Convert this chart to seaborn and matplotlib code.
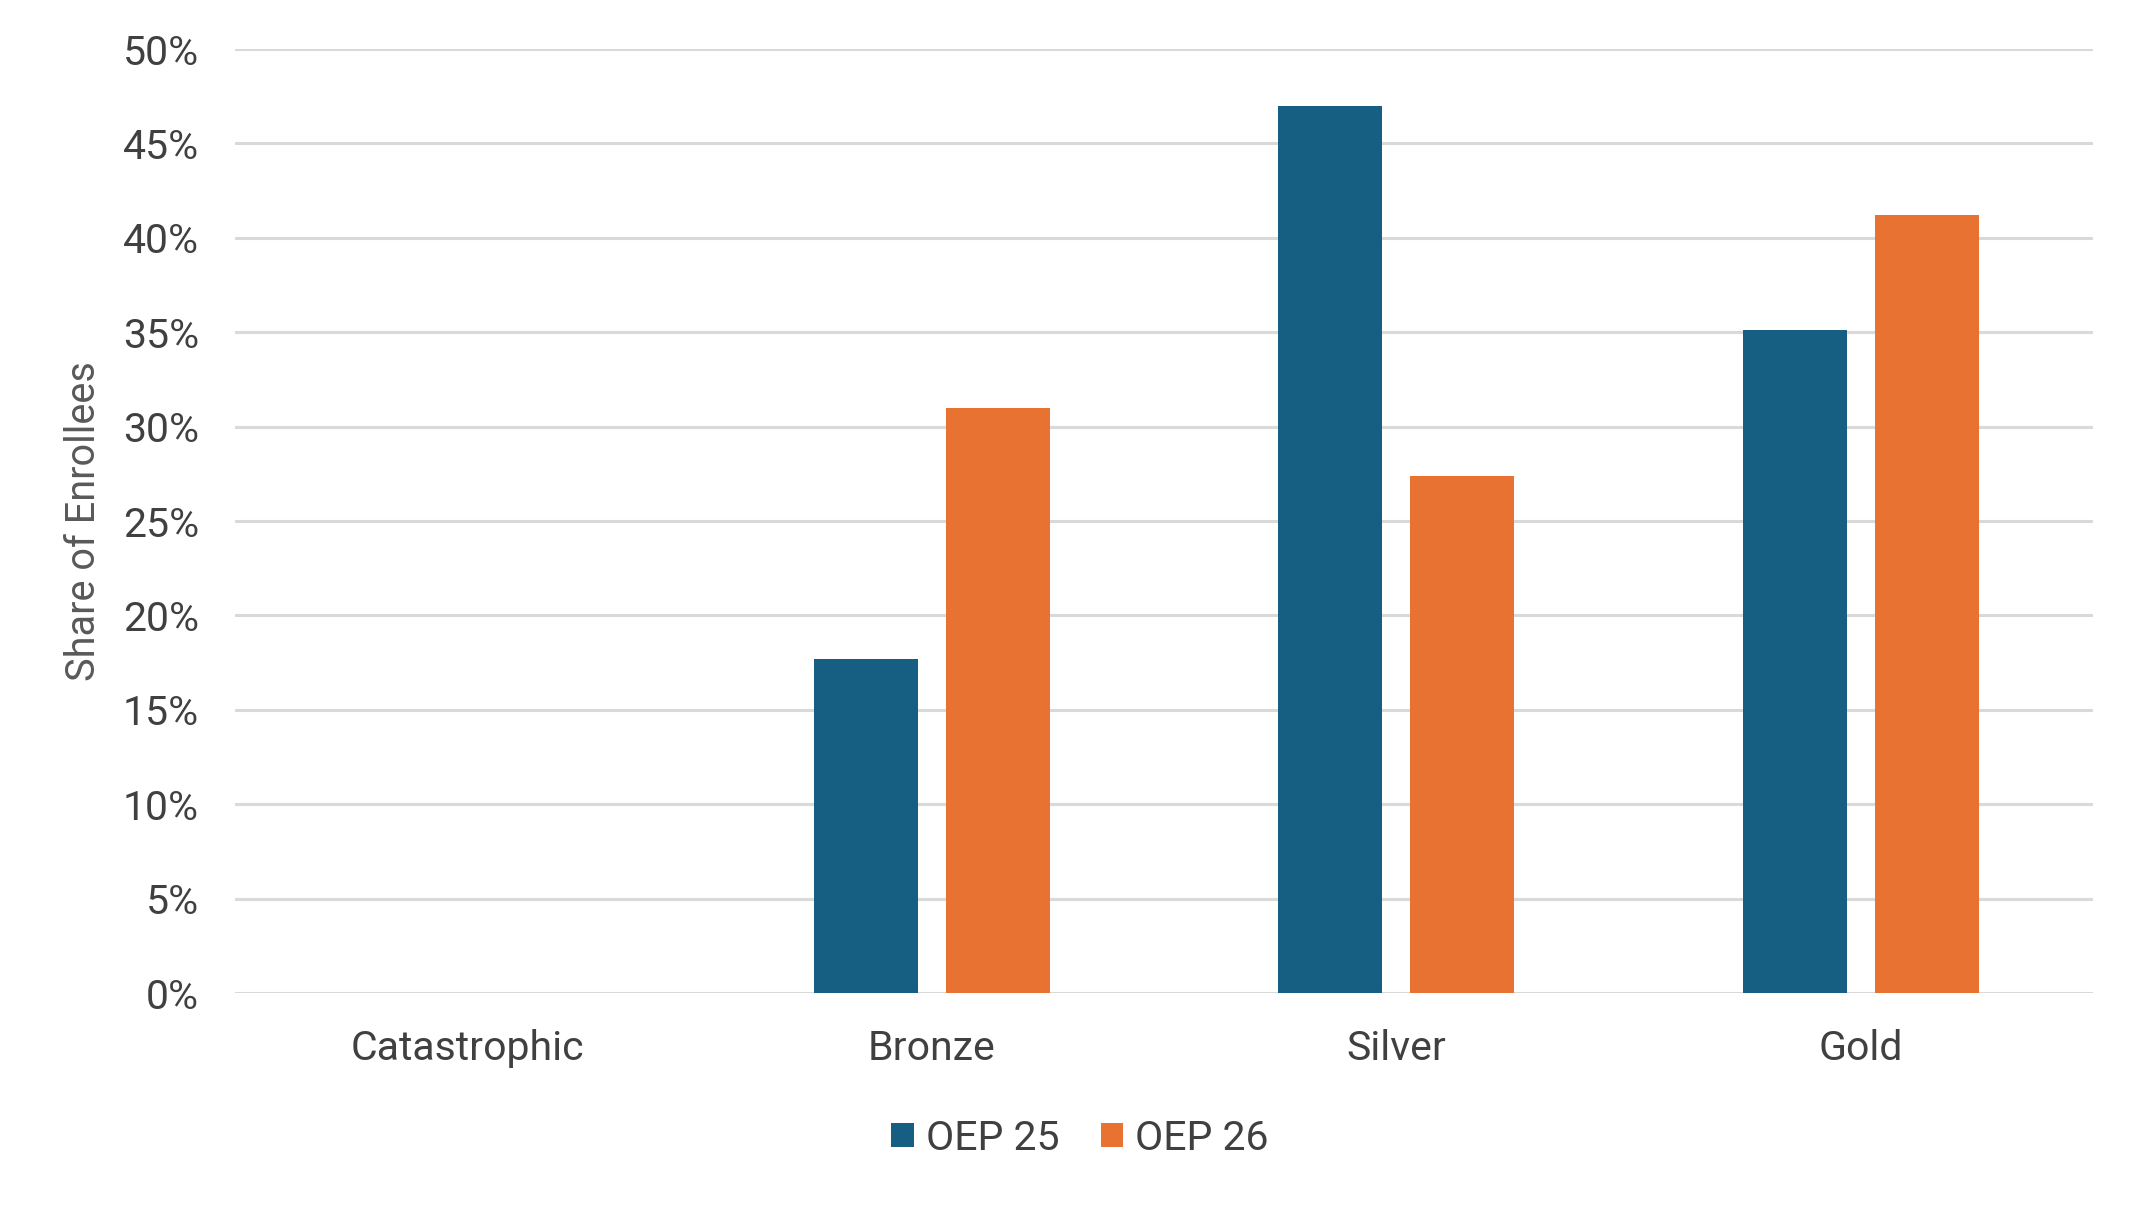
import matplotlib
matplotlib.use("Agg")
import matplotlib.pyplot as plt
import seaborn as sns
import pandas as pd
from matplotlib.ticker import FuncFormatter, MultipleLocator

categories = ["Catastrophic", "Bronze", "Silver", "Gold"]
series_names = ["OEP 25", "OEP 26"]
oep25 = [0.0, 17.7, 47.0, 35.1]
oep26 = [0.0, 31.0, 27.4, 41.2]

colors = {"OEP 25": "#175F82", "OEP 26": "#E87231"}

rows = []
for c, a, b in zip(categories, oep25, oep26):
    rows.append({"Category": c, "Series": "OEP 25", "Value": a})
    rows.append({"Category": c, "Series": "OEP 26", "Value": b})
df = pd.DataFrame(rows)

sns.set_theme(style="white")
plt.rcParams["font.family"] = ["Roboto", "DejaVu Sans"]

fig = plt.figure(figsize=(21.45, 12.10), dpi=100)
ax = fig.add_axes([0.1096, 0.1793, 0.8662, 0.7802])

sns.barplot(data=df, x="Category", y="Value", hue="Series", order=categories,
            hue_order=series_names, palette=colors, width=0.568, gap=0.21,
            linewidth=0, saturation=1, ax=ax, legend=True, errorbar=None)

ax.set_ylim(0, 50)
ax.set_xlim(-0.5, 3.5)
ax.yaxis.set_major_locator(MultipleLocator(5))
ax.yaxis.set_major_formatter(FuncFormatter(lambda v, p: f"{v:.0f}%"))
ax.grid(axis="y", color="#D9D9D9", linewidth=2.2)
ax.set_axisbelow(True)
for s in ax.spines.values():
    s.set_visible(False)
ax.tick_params(axis="both", length=0, labelsize=29.5, colors="#404040")
ax.tick_params(axis="y", pad=26)
ax.tick_params(axis="x", pad=26)
ax.set_xlabel("")
ax.set_ylabel("Share of Enrollees", fontsize=28.5, color="#595959", labelpad=14)

handles, labels = ax.get_legend_handles_labels()
ax.legend(handles, labels, loc="center", bbox_to_anchor=(1080 / 2145, 1 - 1138 / 1210),
          bbox_transform=fig.transFigure, ncol=2, frameon=False, fontsize=29.5,
          handlelength=0.55, handleheight=0.55, handletextpad=0.3, columnspacing=1.0,
          labelcolor="#404040")

fig.savefig("out.png", dpi=100)
